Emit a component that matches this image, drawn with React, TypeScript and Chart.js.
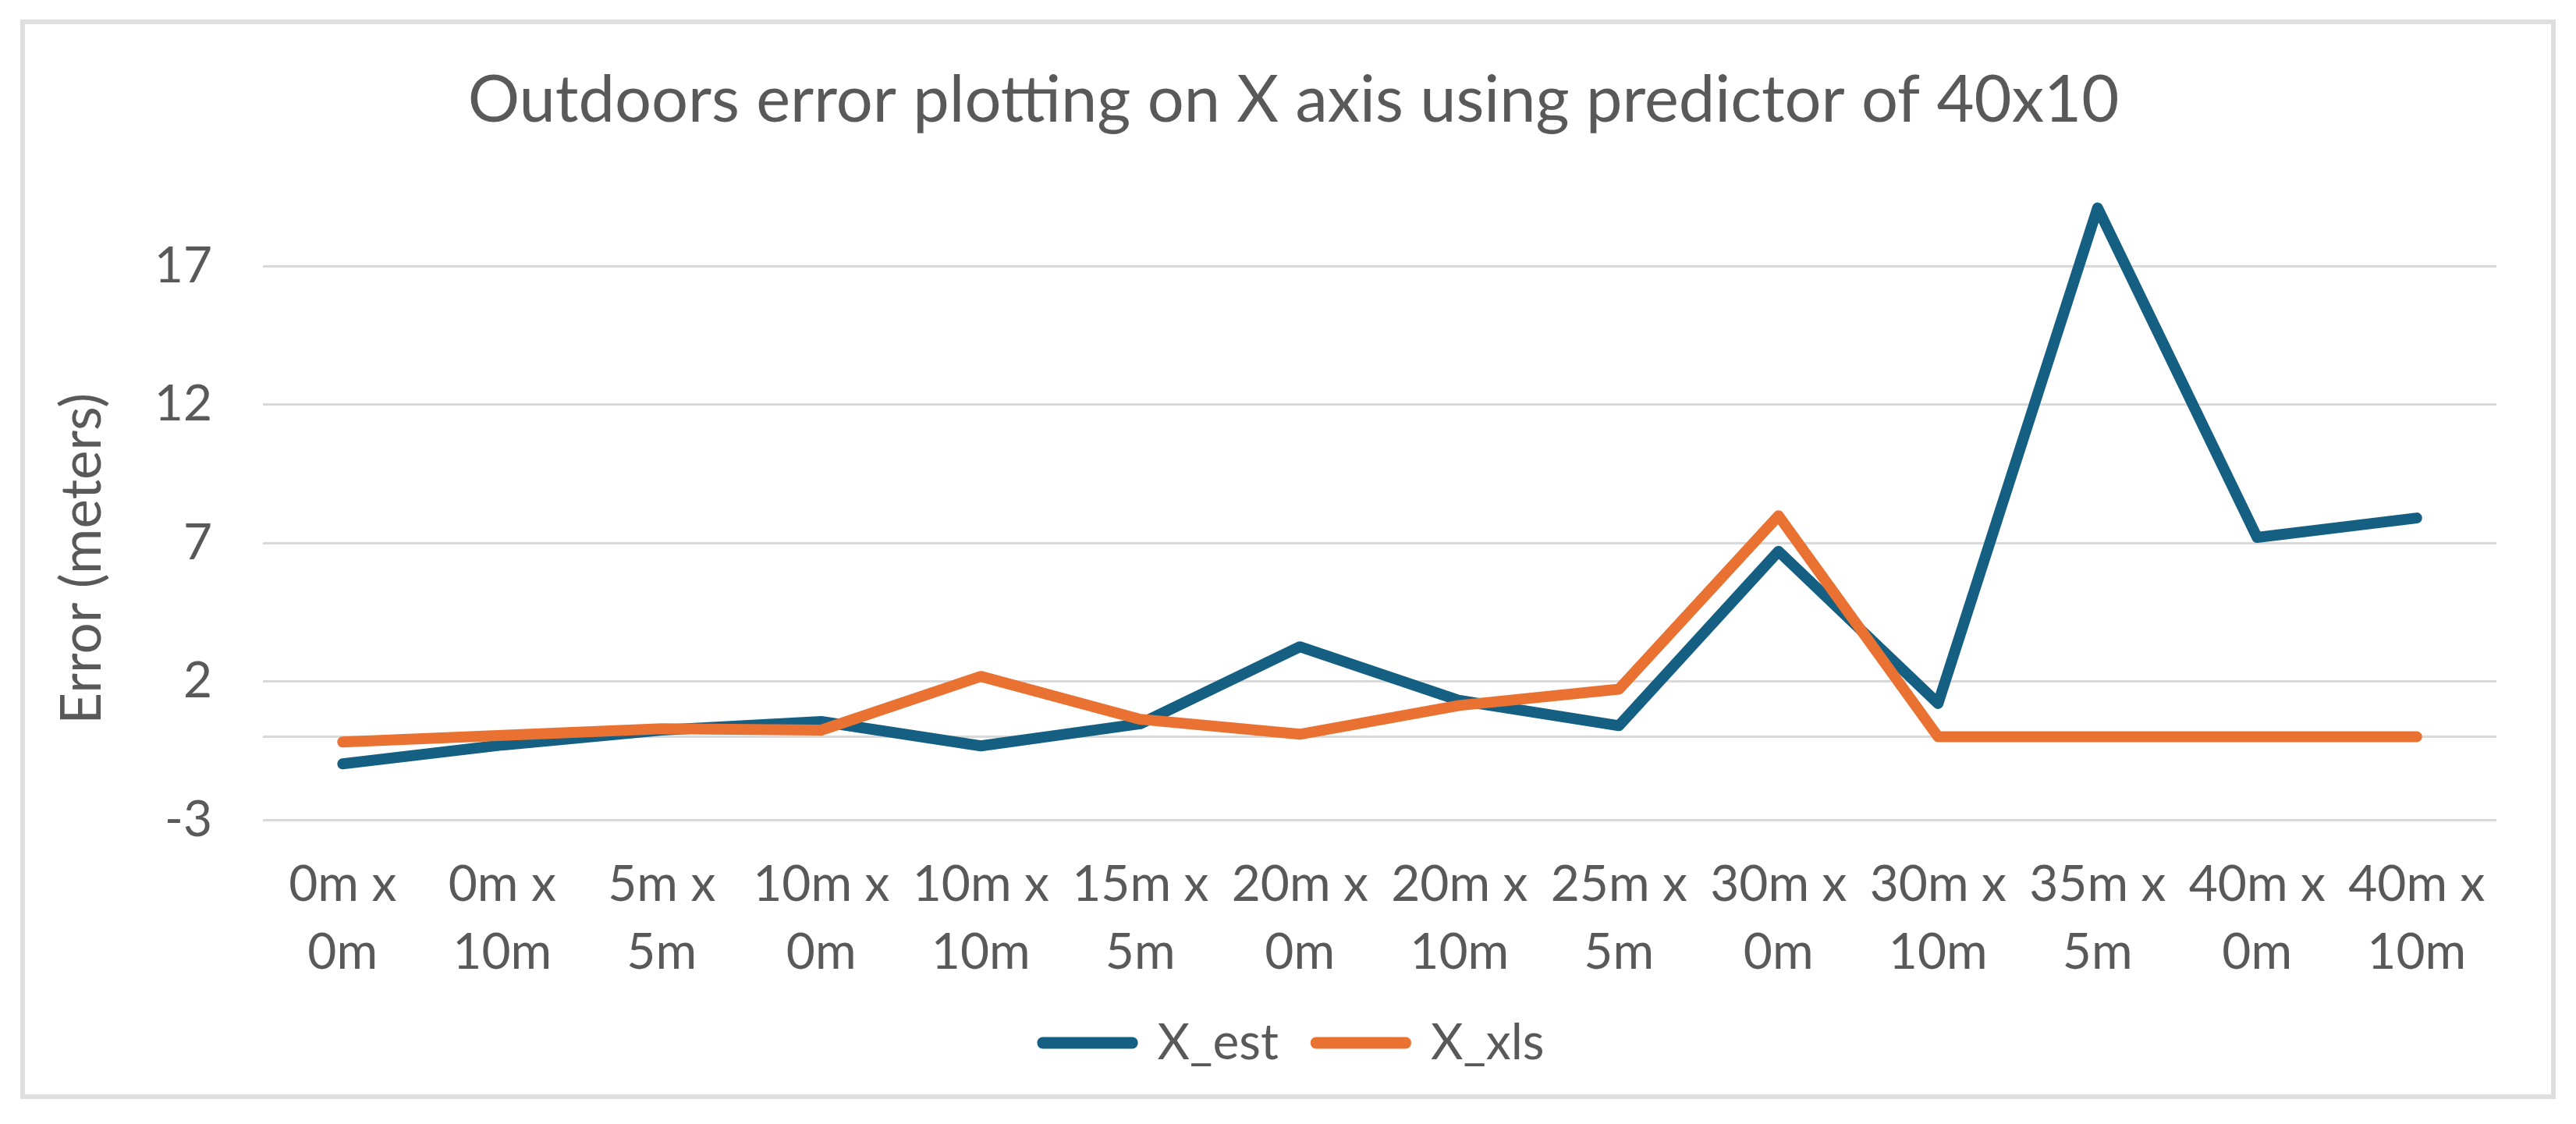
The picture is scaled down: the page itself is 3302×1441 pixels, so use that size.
import { useEffect, useRef } from 'react';
import { Chart, registerables } from 'chart.js';

Chart.register(...registerables);

const titleText = 'Outdoors error plotting on X axis using predictor of 40x10';
const yAxisTitle = 'Error (meters)';
const categories = [
  ['0m x', '0m'], ['0m x', '10m'], ['5m x', '5m'], ['10m x', '0m'], ['10m x', '10m'],
  ['15m x', '5m'], ['20m x', '0m'], ['20m x', '10m'], ['25m x', '5m'], ['30m x', '0m'],
  ['30m x', '10m'], ['35m x', '5m'], ['40m x', '0m'], ['40m x', '10m'],
];
const seriesNames = ['X_est', 'X_xls'];
const xEst = [-0.98, -0.3, 0.24, 0.55, -0.33, 0.47, 3.25, 1.31, 0.4, 6.7, 1.2, 19.1, 7.2, 7.9];
const xXls = [-0.19, 0.05, 0.29, 0.24, 2.18, 0.63, 0.09, 1.13, 1.72, 7.98, 0, 0, 0, 0];
const yTickValues = [-3, 2, 7, 12, 17];
const yZeroLine = 0;
const yMin = -3;
const yMax = 20;

const FONT = 'Lato, "Open Sans", sans-serif';
const TEXT = '#595959';
const BLUE = '#156082';
const ORANGE = '#E97132';
const GRID = '#d9d9d9';

const yTitlePlugin = {
  id: 'yTitlePlugin',
  afterDraw(chart: any) {
    const ctx = chart.ctx;
    const area = chart.chartArea;
    ctx.save();
    ctx.translate(74, area.top + (area.bottom - area.top) * 0.59);
    ctx.rotate(-Math.PI / 2);
    ctx.font = `71px ${FONT}`;
    ctx.fillStyle = TEXT;
    ctx.textAlign = 'center';
    ctx.textBaseline = 'middle';
    ctx.fillText(yAxisTitle, 0, 0);
    ctx.restore();
  },
};

export default function App() {
  const ref = useRef<HTMLCanvasElement | null>(null);

  useEffect(() => {
    if (!ref.current) return;
    const chart = new Chart(ref.current, {
      type: 'line',
      data: {
        labels: categories,
        datasets: [
          {
            label: seriesNames[0],
            data: xEst,
            borderColor: BLUE,
            backgroundColor: BLUE,
            borderWidth: 14,
            pointRadius: 0,
            tension: 0,
            borderCapStyle: 'round',
            borderJoinStyle: 'round',
            order: 1,
          },
          {
            label: seriesNames[1],
            data: xXls,
            borderColor: ORANGE,
            backgroundColor: ORANGE,
            borderWidth: 14,
            pointRadius: 0,
            tension: 0,
            borderCapStyle: 'round',
            borderJoinStyle: 'round',
            order: 0,
          },
        ],
      },
      options: {
        responsive: false,
        animation: false,
        devicePixelRatio: 1,
        layout: { padding: { top: 0, left: 84, right: 70, bottom: 24 } },
        plugins: {
          title: {
            display: true,
            text: titleText,
            color: TEXT,
            font: { family: FONT, size: 83, weight: 'normal', lineHeight: 1.2 },
            padding: { top: 48, bottom: 56 },
          },
          legend: {
            display: true,
            position: 'bottom',
            labels: {
              color: TEXT,
              font: { family: FONT, size: 64 },
              boxWidth: 115,
              boxHeight: 1,
              padding: 48,
              sort: (a: any, b: any) => a.datasetIndex - b.datasetIndex,
            },
          },
          tooltip: { enabled: false },
        },
        scales: {
          x: {
            type: 'category',
            offset: true,
            grid: { display: false, drawTicks: false },
            border: { display: false },
            ticks: {
              color: TEXT,
              font: { family: FONT, size: 64, lineHeight: 1.355 },
              padding: 40,
              maxRotation: 0,
              autoSkip: false,
            },
            afterFit: (s: any) => { s.height = 206; },
          },
          y: {
            type: 'linear',
            min: yMin,
            max: yMax,
            grid: { color: GRID, lineWidth: 3, drawTicks: false },
            border: { display: false },
            ticks: {
              color: TEXT,
              font: { family: FONT, size: 64 },
              padding: 65,
              callback: (v: any) => (v === yZeroLine ? '' : String(v)),
            },
            afterBuildTicks: (s: any) => {
              s.ticks = [...yTickValues, yZeroLine].sort((a, b) => a - b).map((v) => ({ value: v }));
            },
            afterFit: (s: any) => { s.width = 221; },
          },
        },
      } as any,
      plugins: [yTitlePlugin],
    });
    return () => chart.destroy();
  }, []);

  return (
    <div style={{ position: 'absolute', left: 0, top: 0, width: 3302, height: 1441, background: '#fff' }}>
      <div
        style={{
          position: 'absolute',
          left: 26,
          top: 25,
          width: 3250,
          height: 1384,
          boxSizing: 'border-box',
          border: '6px solid #dedede',
          background: '#fff',
        }}
      >
        <canvas ref={ref} width={3238} height={1372} style={{ display: 'block', width: 3238, height: 1372 }} />
      </div>
    </div>
  );
}
